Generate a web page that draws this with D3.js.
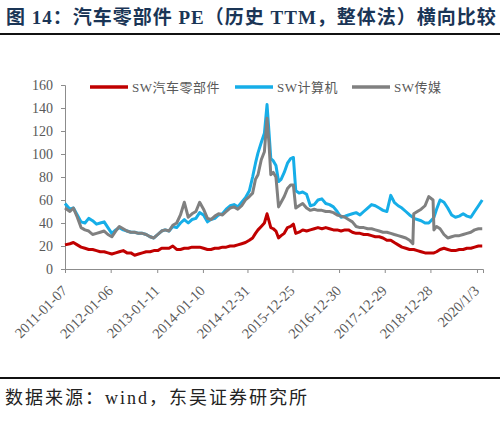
<!DOCTYPE html>
<head>
    <title>汽车零部件 PE 横向比较</title>
    <meta charset="utf-8">
    <style>
        body { margin: 0; background: #fff; }
        text { font-family: "Liberation Serif", "Noto Sans CJK SC", serif; }
    </style>
</head>

<body>

<div id="chart"></div>

<script src="https://d3js.org/d3.v7.min.js"></script>

<script>

// Series data (PE, historical TTM)
var dates = [
    "2011-01-07","2011-02-15","2011-03-15","2011-04-15","2011-05-15","2011-06-15","2011-07-15","2011-08-15",
    "2011-09-15","2011-10-15","2011-11-15","2011-12-15","2012-01-15","2012-02-15","2012-03-15","2012-04-15",
    "2012-05-15","2012-06-15","2012-07-15","2012-08-15","2012-09-15","2012-10-15","2012-11-15","2012-12-15",
    "2013-01-15","2013-02-15","2013-03-15","2013-04-15","2013-05-15","2013-06-15","2013-07-15","2013-08-15",
    "2013-09-15","2013-10-15","2013-11-15","2013-12-15","2014-01-15","2014-02-15","2014-03-15","2014-04-15",
    "2014-05-15","2014-06-15","2014-07-15","2014-08-15","2014-09-15","2014-10-15","2014-11-15","2014-12-15",
    "2015-01-15","2015-02-10","2015-03-05","2015-03-25","2015-04-20","2015-05-15","2015-06-05","2015-06-20",
    "2015-07-05","2015-07-25","2015-08-15","2015-09-05","2015-09-25","2015-10-20","2015-11-15","2015-12-10",
    "2016-01-01","2016-01-20","2016-02-15","2016-03-15","2016-04-15","2016-05-15","2016-06-15","2016-07-15",
    "2016-08-15","2016-09-15","2016-10-15","2016-11-15","2016-12-15","2017-01-15","2017-02-15","2017-03-15",
    "2017-04-15","2017-05-15","2017-06-15","2017-07-15","2017-08-15","2017-09-15","2017-10-15","2017-11-15",
    "2017-12-15","2018-01-15","2018-02-15","2018-03-15","2018-04-15","2018-05-15","2018-06-15","2018-07-15",
    "2018-08-10","2018-08-17","2018-09-15","2018-10-15","2018-11-15","2018-12-15","2019-01-18","2019-01-25",
    "2019-02-15","2019-03-15","2019-04-15","2019-05-15","2019-06-15","2019-07-15","2019-08-15","2019-09-15",
    "2019-10-15","2019-11-15","2019-12-15","2020-01-15","2020-02-14"
];

var autoParts = [
    21, 22, 23, 21, 19, 18, 17, 17,
    16, 15, 15, 14, 13, 14, 15, 16,
    14, 14, 12, 13, 14, 15, 15, 16,
    16, 18, 18, 18, 20, 17, 17, 18,
    18, 19, 19, 19, 18, 17, 17, 18,
    18, 19, 19, 20, 20, 21, 22, 23,
    25, 27, 31, 34, 37, 40, 48, 42,
    36, 35, 33, 27, 29, 31, 36, 37,
    39, 31, 32, 34, 33, 34, 35, 36,
    35, 36, 35, 34, 34, 33, 34, 34,
    32, 31, 31, 30, 30, 29, 28, 28,
    27, 25, 25, 23, 21, 19, 18, 17,
    17, 17, 16, 15, 14, 14, 14, 14,
    15, 17, 18, 17, 16, 16, 17, 17,
    18, 18, 19, 20, 20
];

var computer = [
    57, 52, 53, 47, 41, 40, 44, 42,
    39, 40, 41, 36, 31, 34, 36, 34,
    33, 32, 32, 31, 31, 30, 28, 27,
    30, 33, 34, 33, 37, 36, 40, 43,
    40, 43, 44, 49, 47, 41, 43, 44,
    47, 48, 52, 55, 56, 54, 58, 62,
    68, 80, 92, 101, 110, 118, 143, 120,
    96, 94, 90, 76, 78, 84, 92, 96,
    97, 68, 66, 67, 65, 55, 56, 60,
    61, 57, 56, 54, 50, 45, 46, 47,
    48, 49, 47, 50, 53, 56, 55, 53,
    51, 50, 64, 58, 55, 53, 50, 47,
    45, 44, 43, 42, 40, 40, 44, 45,
    52, 60, 58, 53, 47, 45, 46, 48,
    46, 45, 50, 55, 60
];

var media = [
    53, 50, 53, 45, 36, 34, 33, 30,
    31, 32, 33, 30, 28, 33, 37, 35,
    33, 32, 32, 31, 31, 30, 28, 27,
    30, 33, 34, 33, 38, 40, 47, 58,
    45, 48, 50, 58, 52, 44, 43, 46,
    48, 47, 50, 53, 54, 52, 55, 60,
    63, 66, 78, 82, 95, 102, 131, 110,
    82, 84, 80, 54, 58, 63, 70, 73,
    73, 53, 55, 57, 53, 51, 52, 51,
    51, 50, 50, 49, 47, 46, 45, 43,
    41, 37, 36, 36, 35, 35, 34, 33,
    32, 32, 31, 30, 29, 28, 27, 25,
    22, 48, 50, 52, 55, 63, 60, 34,
    37, 35, 30, 27, 28, 29, 29, 30,
    31, 32, 34, 35, 35
];

var seriesNames = ["SW汽车零部件", "SW计算机", "SW传媒"];
var seriesColors = ["#c00000", "#16aee8", "#808080"];
var yTicks = [0, 20, 40, 60, 80, 100, 120, 140, 160];
var xTickDates = ["2011-01-07","2012-01-06","2013-01-11","2014-01-10","2014-12-31",
                  "2015-12-25","2016-12-30","2017-12-29","2018-12-28","2020-01-03"];
var xTickLabels = ["2011-01-07","2012-01-06","2013-01-11","2014-01-10","2014-12-31",
                   "2015-12-25","2016-12-30","2017-12-29","2018-12-28","2020/1/3"];

var width = 500, height = 425;
var margin = {top: 85, right: 17, bottom: 156, left: 65};

var parse = d3.timeParse("%Y-%m-%d");

var svg = d3.select("#chart").append("svg")
    .attr("width", width)
    .attr("height", height);

// Title and rules
svg.append("text")
    .attr("x", 6)
    .attr("y", 24)
    .attr("font-size", 19)
    .attr("font-weight", "bold")
    .attr("letter-spacing", 1)
    .attr("fill", "#1a3556")
    .text("图 14：汽车零部件 PE（历史 TTM，整体法）横向比较");

svg.append("line")
    .attr("x1", 0).attr("x2", width)
    .attr("y1", 34).attr("y2", 34)
    .attr("stroke", "#111").attr("stroke-width", 2);

svg.append("line")
    .attr("x1", 0).attr("x2", width)
    .attr("y1", 378).attr("y2", 378)
    .attr("stroke", "#111").attr("stroke-width", 2);

svg.append("text")
    .attr("x", 5)
    .attr("y", 404)
    .attr("font-size", 18)
    .attr("letter-spacing", 2)
    .attr("fill", "#222")
    .text("数据来源：wind，东吴证券研究所");

// Scales
var x = d3.scaleTime()
    .domain([parse("2011-01-07"), parse("2020-02-20")])
    .range([margin.left, width - margin.right]);

var y = d3.scaleLinear()
    .domain([0, 160])
    .range([height - margin.bottom, margin.top]);

// Axes
var yAxis = svg.append("g")
    .attr("transform", "translate(" + margin.left + ",0)")
    .call(d3.axisLeft(y).tickValues(yTicks).tickSize(4).tickPadding(8));

yAxis.selectAll("text").attr("font-size", 14).attr("fill", "#595959")
    .attr("font-family", "Liberation Serif");
yAxis.selectAll("line, path").attr("stroke", "#8c8c8c");

var xAxis = svg.append("g")
    .attr("transform", "translate(0," + y(0) + ")")
    .call(d3.axisBottom(x)
        .tickValues(xTickDates.map(parse))
        .tickSize(4)
        .tickFormat(function(d, i) { return xTickLabels[i]; }));

xAxis.selectAll("line, path").attr("stroke", "#8c8c8c");
xAxis.selectAll("text")
    .attr("font-size", 14.5)
    .attr("fill", "#595959")
    .attr("font-family", "Liberation Serif")
    .attr("text-anchor", "end")
    .attr("dy", "0.35em")
    .attr("y", 0)
    .attr("transform", "translate(-1,19) rotate(-45)");

// Lines
var allSeries = [autoParts, computer, media];
var line = d3.line()
    .x(function(d) { return x(d.date); })
    .y(function(d) { return y(d.value); });

// draw order: auto, computer, then media on top
allSeries.forEach(function(values, k) {
    var pts = dates.map(function(s, i) { return {date: parse(s), value: values[i]}; });
    svg.append("path")
        .datum(pts)
        .attr("fill", "none")
        .attr("stroke", seriesColors[k])
        .attr("stroke-width", 3)
        .attr("stroke-linejoin", "round")
        .attr("d", line);
});

// Legend
var legendX = [90, 235, 352];
var legend = svg.selectAll(".legend")
    .data(seriesNames)
    .enter().append("g")
    .attr("class", "legend")
    .attr("transform", function(d, i) { return "translate(" + legendX[i] + ",87)"; });

legend.append("line")
    .attr("x1", 0).attr("x2", 38)
    .attr("stroke", function(d, i) { return seriesColors[i]; })
    .attr("stroke-width", 3.5);

legend.append("text")
    .attr("x", 42)
    .attr("dy", "0.35em")
    .attr("font-size", 13)
    .attr("letter-spacing", 0.5)
    .attr("fill", "#595959")
    .text(function(d) { return d; });

</script>

</body>
</html>
